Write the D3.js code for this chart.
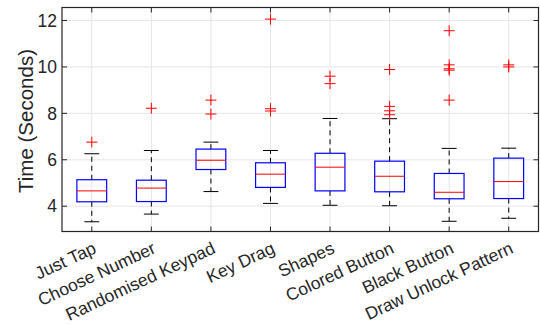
<!DOCTYPE html>
<html>
<head>
<meta charset="utf-8">
<script src="https://cdn.jsdelivr.net/npm/d3@7"></script>
<style>
  body { margin: 0; background: #fff; }
  text { font-family: "Liberation Sans", Arial, sans-serif; fill: #262626; }
</style>
</head>
<body>
<script>
// box plot stats
const categories = ["Just Tap", "Choose Number", "Randomised Keypad", "Key Drag",
                    "Shapes", "Colored Button", "Black Button", "Draw Unlock Pattern"]
const whiskerLow  = [3.33, 3.66, 4.63, 4.12, 4.04, 4.02, 3.35, 3.48]
const q1          = [4.19, 4.20, 5.58, 4.81, 4.66, 4.62, 4.32, 4.33]
const medians     = [4.66, 4.78, 5.98, 5.38, 5.68, 5.29, 4.60, 5.06]
const q3          = [5.14, 5.12, 6.46, 5.87, 6.28, 5.94, 5.41, 6.07]
const whiskerHigh = [6.26, 6.40, 6.76, 6.40, 7.78, 7.77, 6.49, 6.50]
const outliers = [
  [6.76],
  [8.22],
  [8.57, 7.97],
  [12.06, 8.20, 8.10],
  [9.60, 9.28],
  [9.89, 8.30, 8.11, 7.94],
  [11.56, 10.09, 9.92, 9.86, 8.57],
  [10.09, 10.00]
]
const yTicks = [4, 6, 8, 10, 12]

const width = 540, height = 325
const mLeft = 62, mRight = 538.5, mTop = 7.5, mBottom = 231.5

const x = d3.scaleLinear().domain([0.5, 8.5]).range([mLeft, mRight])
const y = d3.scaleLinear().domain([2.91, 12.56]).range([mBottom, mTop])
const boxW = x(1.25) - x(1)   // half-width of box (0.25 units)
const capW = x(1.125) - x(1)

const svg = d3.select("body").append("svg")
  .attr("width", width).attr("height", height)

// grid
const grid = svg.append("g").attr("stroke", "#e6e6e6").attr("stroke-width", 1)
grid.selectAll(".gy").data(yTicks).enter().append("line")
  .attr("x1", mLeft).attr("x2", mRight)
  .attr("y1", d => y(d)).attr("y2", d => y(d))
grid.selectAll(".gx").data(categories).enter().append("line")
  .attr("x1", (d, i) => x(i + 1)).attr("x2", (d, i) => x(i + 1))
  .attr("y1", mTop).attr("y2", mBottom)

// boxes
const g = svg.append("g")
categories.forEach((c, i) => {
  const cx = x(i + 1)
  // whiskers
  g.append("line").attr("x1", cx).attr("x2", cx)
    .attr("y1", y(q3[i])).attr("y2", y(whiskerHigh[i]))
    .attr("stroke", "#000").attr("stroke-dasharray", "5,4")
  g.append("line").attr("x1", cx).attr("x2", cx)
    .attr("y1", y(q1[i])).attr("y2", y(whiskerLow[i]))
    .attr("stroke", "#000").attr("stroke-dasharray", "5,4")
  // caps
  ;[whiskerHigh[i], whiskerLow[i]].forEach(v => {
    g.append("line").attr("x1", cx - capW).attr("x2", cx + capW)
      .attr("y1", y(v)).attr("y2", y(v)).attr("stroke", "#000")
  })
  // box
  g.append("rect")
    .attr("x", cx - boxW).attr("width", 2 * boxW)
    .attr("y", y(q3[i])).attr("height", y(q1[i]) - y(q3[i]))
    .attr("fill", "none").attr("stroke", "#0000ff").attr("stroke-width", 1.2)
  // median
  g.append("line").attr("x1", cx - boxW).attr("x2", cx + boxW)
    .attr("y1", y(medians[i])).attr("y2", y(medians[i]))
    .attr("stroke", "#ff0000")
  // outliers
  outliers[i].forEach(v => {
    const py = y(v), s = 5.5
    g.append("path")
      .attr("d", `M${cx - s},${py}H${cx + s}M${cx},${py - s}V${py + s}`)
      .attr("stroke", "#ff0000").attr("fill", "none")
  })
})

// axes frame with inward ticks
const ax = svg.append("g").attr("stroke", "#262626").attr("fill", "none")
ax.append("rect").attr("x", mLeft).attr("y", mTop)
  .attr("width", mRight - mLeft).attr("height", mBottom - mTop)
  .attr("stroke-width", 1.2)
const tl = 5
yTicks.forEach(v => {
  ax.append("line").attr("x1", mLeft).attr("x2", mLeft + tl).attr("y1", y(v)).attr("y2", y(v))
  ax.append("line").attr("x1", mRight).attr("x2", mRight - tl).attr("y1", y(v)).attr("y2", y(v))
})
categories.forEach((c, i) => {
  ax.append("line").attr("x1", x(i + 1)).attr("x2", x(i + 1)).attr("y1", mBottom).attr("y2", mBottom - tl)
  ax.append("line").attr("x1", x(i + 1)).attr("x2", x(i + 1)).attr("y1", mTop).attr("y2", mTop + tl)
})

// y tick labels
svg.selectAll(".yl").data(yTicks).enter().append("text")
  .attr("x", mLeft - 5).attr("y", d => y(d))
  .attr("dy", "0.36em").attr("text-anchor", "end")
  .attr("font-size", 17.5).text(d => d)

// x tick labels, rotated
svg.selectAll(".xl").data(categories).enter().append("text")
  .attr("transform", (d, i) => `translate(${x(i + 1)},${mBottom + 9}) rotate(-25)`)
  .attr("text-anchor", "end").attr("dy", "0.75em")
  .attr("font-size", 17.5).text(d => d)

// y axis title
svg.append("text")
  .attr("transform", `translate(33,121) rotate(-90)`)
  .attr("text-anchor", "middle").attr("font-size", 20.5)
  .text("Time (Seconds)")
</script>
</body>
</html>
